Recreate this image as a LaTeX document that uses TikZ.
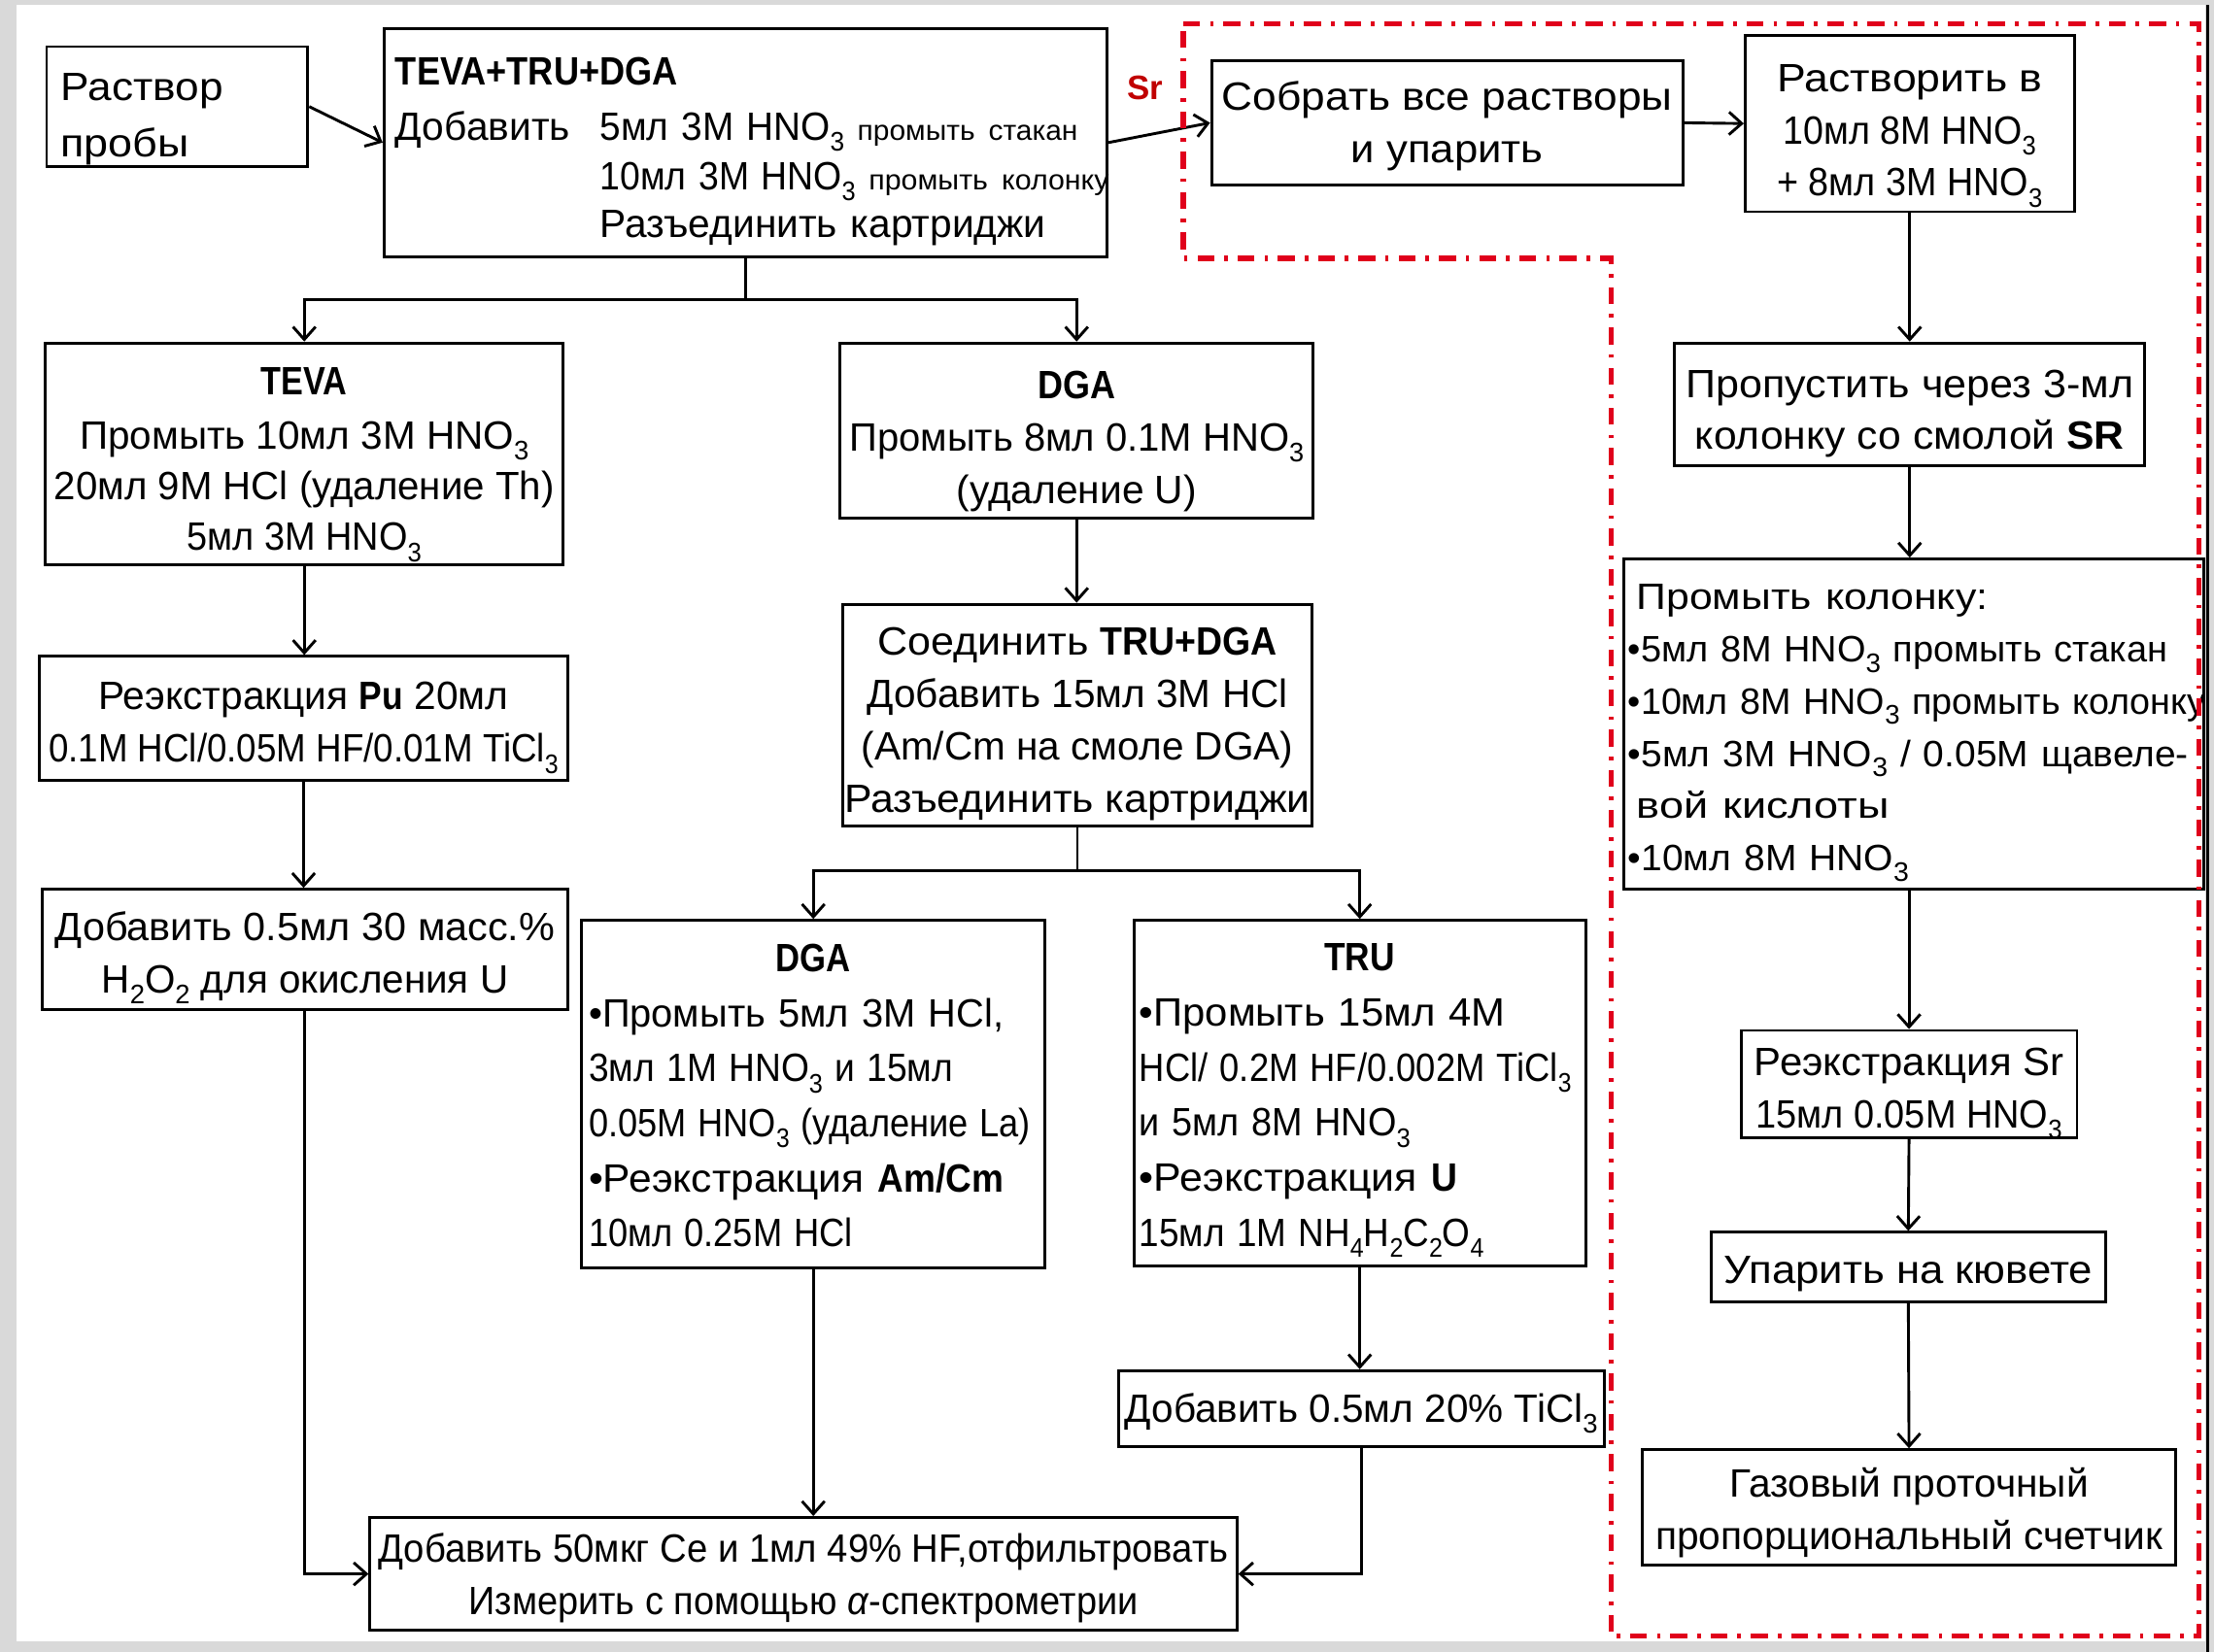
\documentclass[tikz,border=0pt]{standalone}
\usepackage{fontspec}
\setmainfont{Liberation Sans}
\usepackage{graphicx}
\usetikzlibrary{arrows.meta}
\definecolor{bggrey}{HTML}{D9D9D9}
\definecolor{sred}{HTML}{E0001B}
\definecolor{srtext}{HTML}{C00000}
\newcommand\lsub[1]{\raisebox{-0.28em}{\fontsize{19}{19}\selectfont #1}}
\newcommand\fitw[2]{\resizebox{#1}{\height}{#2}}
\newcommand\smtxt[2]{\fitw{#1}{\fontsize{20}{20}\selectfont #2}}
\newcommand\bnar[1]{\scalebox{0.87}[1]{\textbf{#1}}}
\newcommand\bfit[2]{\fitw{#1}{\textbf{#2}}}
\newcommand\dn[2]{\raisebox{-#1}[\height][\depth]{\begin{tabular}{@{}c@{}}#2\end{tabular}}}
\newcommand\dnl[2]{\raisebox{-#1}[\height][\depth]{\begin{tabular}{@{}l@{}}#2\end{tabular}}}
\begin{document}
\begin{tikzpicture}[x=1pt,y=-1pt,
  box/.style={draw=black, line width=2pt, inner sep=0pt, align=center,
    font=\fontsize{28}{37}\selectfont},
  wh/.style 2 args={minimum width=#1pt, minimum height=#2pt},
  lbox/.style={box, align=left},
  arr/.style={line width=2pt, -{Straight Barb[length=9pt,width=16pt]}},
  conn/.style={line width=2pt},
  redline/.style={sred, line width=3.5pt, dash pattern=on 12pt off 7pt on 2.5pt off 7pt}
]
\useasboundingbox (0,0) rectangle (1568,1170);
\fill[bggrey] (0,0) rectangle (1568,1170);
\fill[white] (12,3.5) rectangle (1562,1163);
\draw[line width=2.4pt] (1563.5,3.5) -- (1563.5,1170);

% top row
\node[lbox, wh={185}{85}, text width=165pt, inner xsep=10pt] (n1) at (125.5,75.5)
 {\dnl{8pt}{\fitw{115pt}{Раствор}\\[3pt]\fitw{91pt}{пробы}}};
\node[lbox, wh={512}{162}, text width=496pt, inner xsep=8pt] (n2) at (528,101)
 {\raisebox{-6pt}[\height][\depth]{\begin{tabular}{@{}p{145pt}@{}l@{}}
  \multicolumn{2}{@{}l@{}}{\bfit{200pt}{TEVA+TRU+DGA}}\\[2pt]
  Добавить & \fitw{173pt}{5мл 3M HNO\lsub{3}} \smtxt{156pt}{промыть стакан}\\[-2pt]
  & \fitw{181pt}{10мл 3M HNO\lsub{3}} \smtxt{170pt}{промыть колонку}\\[-3pt]
  & Разъединить картриджи
 \end{tabular}}};
\node[text=srtext, font=\bfseries\fontsize{24}{24}\selectfont] (sr) at (811,62) {Sr};
\node[box, wh={334}{88}] (n3) at (1025,87)
 {\dn{2pt}{\fitw{319pt}{Собрать все растворы}\\\fitw{136pt}{и упарить}}};
\node[box, wh={233}{125}] (n4) at (1352.5,87.5)
 {\dn{7pt}{\fitw{188pt}{Растворить в}\\\fitw{179pt}{10мл 8M HNO\lsub{3}}\\\fitw{188pt}{+ 8мл 3M HNO\lsub{3}}}};

% Sr column
\node[box, wh={333}{87}] (n5) at (1352.5,286.5)
 {\dn{6pt}{\fitw{317pt}{Пропустить через 3-мл}\\\fitw{304pt}{колонку со смолой \textbf{SR}}}};
\node[lbox, wh={411}{234}, text width=405pt, inner xsep=3pt,
  font=\fontsize{26}{37}\selectfont] (n6) at (1355.5,513)
 {\dnl{4pt}{\hspace*{6pt}\fitw{249pt}{Промыть колонку:}\\
  \fitw{382pt}{•5мл 8M HNO\lsub{3} промыть стакан}\\
  \fitw{409pt}{•10мл 8M HNO\lsub{3} промыть колонку}\\
  \fitw{397pt}{•5мл 3M HNO\lsub{3} / 0.05M щавеле-}\\
  \hspace*{6pt}\fitw{179pt}{вой кислоты}\\
  \fitw{199pt}{•10мл 8M HNO\lsub{3}}}};
\node[box, wh={238}{76}] (n7) at (1352,768)
 {\dn{5pt}{\fitw{219pt}{Реэкстракция Sr}\\\fitw{217pt}{15мл 0.05M HNO\lsub{3}}}};
\node[box, wh={279}{49}] (n8) at (1351.5,897.5)
 {\raisebox{-5pt}[\height][\depth]{\fitw{261pt}{Упарить на кювете}}};
\node[box, wh={378}{82}] (n9) at (1352,1068)
 {\dn{4pt}{Газовый проточный\\пропорциональный счетчик}};

% TEVA column
\node[box, wh={367}{157}] (n10) at (215.5,321.5)
 {\dn{6pt}{\bfit{61pt}{TEVA}\\[1pt]
  \fitw{318pt}{Промыть 10мл 3M HNO\lsub{3}}\\[-1pt]
  \fitw{354pt}{20мл 9M HCl (удаление Th)}\\[-1pt]
  \fitw{166pt}{5мл 3M HNO\lsub{3}}}};
\node[box, wh={374}{88}] (n11) at (215,509)
 {\dn{5pt}{Реэкстракция \bnar{Pu} 20мл\\\fitw{361pt}{0.1M HCl/0.05M HF/0.01M TiCl\lsub{3}}}};
\node[box, wh={372}{85}] (n12) at (216,672.5)
 {\dn{5pt}{\fitw{354pt}{Добавить 0.5мл 30 масс.\%}\\\fitw{288pt}{H\lsub{2}O\lsub{2} для окисления U}}};

% DGA column
\node[box, wh={335}{124}] (n13) at (762.5,305)
 {\dn{7pt}{\bfit{55pt}{DGA}\\\fitw{322pt}{Промыть 8мл 0.1M HNO\lsub{3}}\\(удаление U)}};
\node[box, wh={332}{157}] (n14) at (763,506.5)
 {\dn{6pt}{\fitw{283pt}{Соединить \bnar{TRU+DGA}}\\\fitw{298pt}{Добавить 15мл 3M HCl}\\
  \fitw{306pt}{(Am/Cm на смоле DGA)}\\\fitw{330pt}{Разъединить картриджи}}};
\node[lbox, wh={328}{246}, text width=318pt, inner xsep=5pt,
  font=\fontsize{28}{39}\selectfont] (n15) at (576,775)
 {\dnl{3pt}{\makebox[318pt][c]{\bfit{53pt}{DGA}}\\
  \fitw{294pt}{•Промыть 5мл 3M HCl,}\\
  \fitw{258pt}{3мл 1M HNO\lsub{3} и 15мл}\\
  \fitw{313pt}{0.05M HNO\lsub{3} (удаление La)}\\
  \fitw{294pt}{•Реэкстракция \bnar{Am/Cm}}\\
  \fitw{187pt}{10мл 0.25M HCl}}};
\node[lbox, wh={320}{245}, text width=312pt, inner xsep=4pt,
  font=\fontsize{28}{39}\selectfont] (n16) at (963,774.5)
 {\dnl{3pt}{\makebox[312pt][c]{\bfit{50pt}{TRU}}\\
  \fitw{259pt}{•Промыть 15мл 4M}\\
  \fitw{306pt}{HCl/ 0.2M HF/0.002M TiCl\lsub{3}}\\
  \fitw{192pt}{и 5мл 8M HNO\lsub{3}}\\
  \fitw{225pt}{•Реэкстракция \bnar{U}}\\
  \fitw{244pt}{15мл 1M NH\lsub{4}H\lsub{2}C\lsub{2}O\lsub{4}}}};
\node[box, wh={344}{54}] (n17) at (964,998)
 {\raisebox{-3pt}[\height][\depth]{\fitw{335pt}{Добавить 0.5мл 20\% TiCl\lsub{3}}}};
\node[box, wh={614}{80}] (n18) at (569,1115)
 {\dn{3pt}{\fitw{602pt}{Добавить 50мкг Се и 1мл 49\% HF,отфильтровать}\\
  \fitw{474pt}{Измерить с помощью \textit{α}-спектрометрии}}};

% connectors
\coordinate (s1) at (528,212);
\coordinate (s2) at (763,617);
\draw[arr] (n1.east) -- (n2.west);
\draw[arr] (n2.east) -- (n3.west);
\draw[arr] (n3.east) -- (n4.west);
\draw[arr] (n4.south) -- (n5.north);
\draw[arr] (n5.south) -- (n5.south |- n6.north);
\draw[arr] (n7.north |- n6.south) -- (n7.north);
\draw[arr] (n7.south) -- (n8.north);
\draw[arr] (n8.south) -- (n9.north);
\draw[conn] (n2.south) -- (s1);
\draw[arr] (s1) -| (n10.north);
\draw[arr] (s1) -| (n13.north);
\draw[arr] (n10.south) -- (n10.south |- n11.north);
\draw[arr] (n11.south) -- (n11.south |- n12.north);
\draw[arr] (n13.south) -- (n13.south |- n14.north);
\draw[conn] (n14.south) -- (s2);
\draw[arr] (s2) -| (n15.north);
\draw[arr] (s2) -| (n16.north);
\draw[arr] (n16.south) -- (n16.south |- n17.north);
\draw[arr] (n15.south) -- (n15.south |- n18.north);
\draw[arr] (n12.south) |- (n18.west);
\draw[arr] (n17.south) |- (n18.east);

% Sr region boundary
\draw[redline] (838,17) -- (1557,17) -- (1557,1159) -- (1141,1159)
  -- (1141,183) -- (838,183) -- cycle;
\end{tikzpicture}
\end{document}
